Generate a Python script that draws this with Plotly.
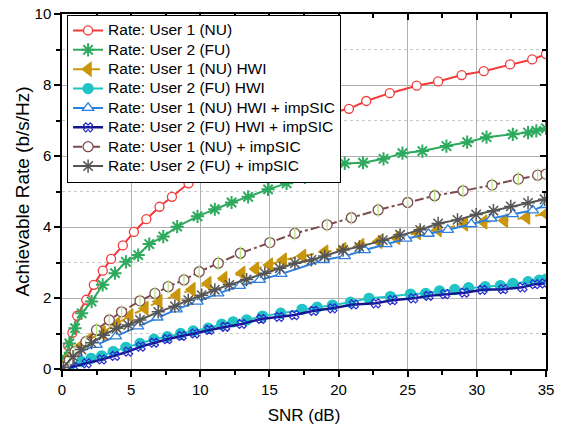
import plotly.graph_objects as go

# ---- data ----
snr_nu = [0.0, 0.15, 0.45, 0.75, 1.1, 1.75, 2.3, 2.95, 3.55, 4.4, 5.2, 6.1, 7.05, 7.95, 9.15, 10.3, 11.6, 13.0, 14.5, 16.0, 17.6, 19.2, 20.75, 22.0, 23.7, 25.65, 27.2, 28.9, 30.5, 32.4, 34.0, 35.0]
rate_nu = [0.0, 0.25, 0.65, 1.02, 1.5, 1.95, 2.37, 2.77, 3.1, 3.48, 3.86, 4.22, 4.57, 4.85, 5.23, 5.5, 5.85, 6.2, 6.5, 6.78, 7.0, 7.2, 7.33, 7.55, 7.77, 7.98, 8.1, 8.28, 8.39, 8.58, 8.72, 8.87]

snr_fu = [0.0, 0.2, 0.53, 0.94, 1.42, 2.14, 2.94, 3.83, 4.62, 5.51, 6.31, 7.32, 8.33, 9.8, 11.05, 12.26, 13.46, 14.9, 16.24, 17.56, 19.1, 20.45, 21.77, 23.25, 24.62, 26.06, 27.8, 29.3, 30.7, 32.6, 33.7, 34.3, 35.0]
rate_fu = [0.0, 0.3, 0.72, 1.15, 1.57, 1.9, 2.37, 2.7, 3.02, 3.21, 3.52, 3.73, 4.01, 4.3, 4.5, 4.69, 4.85, 5.06, 5.23, 5.4, 5.65, 5.79, 5.81, 5.92, 6.08, 6.14, 6.28, 6.39, 6.53, 6.61, 6.66, 6.71, 6.78]

snr_nu_hwi = [0.05, 0.6, 1.2, 1.9, 2.9, 3.95, 4.9, 6.0, 7.0, 8.3, 9.4, 10.55, 11.7, 13.0, 14.0, 15.0, 16.0, 17.4, 19.0, 20.3, 21.6, 22.9, 24.2, 25.7, 27.2, 29.1, 30.5, 32.0, 33.6, 35.0]
rate_nu_hwi = [0.1, 0.35, 0.6, 0.82, 1.02, 1.27, 1.5, 1.71, 1.9, 2.08, 2.24, 2.41, 2.55, 2.7, 2.82, 2.93, 3.07, 3.18, 3.3, 3.37, 3.48, 3.59, 3.7, 3.84, 3.92, 4.08, 4.14, 4.18, 4.27, 4.37]

snr_fu_hwi = [0.0, 0.6, 1.42, 2.1, 2.87, 3.7, 4.62, 5.64, 6.65, 7.61, 8.58, 9.49, 10.57, 11.55, 12.38, 13.35, 14.5, 15.82, 17.36, 18.45, 19.56, 20.86, 22.2, 23.75, 25.2, 26.3, 27.3, 28.4, 29.4, 30.6, 31.7, 32.6, 33.7, 34.5, 35.0]
rate_fu_hwi = [0.05, 0.12, 0.21, 0.3, 0.37, 0.49, 0.61, 0.72, 0.84, 0.91, 1.0, 1.07, 1.15, 1.26, 1.33, 1.38, 1.49, 1.57, 1.68, 1.74, 1.8, 1.88, 1.99, 2.04, 2.11, 2.13, 2.2, 2.24, 2.29, 2.32, 2.35, 2.41, 2.46, 2.5, 2.53]

snr_nu_hwi_sic = [0.1, 1.06, 2.5, 3.9, 5.5, 6.9, 8.29, 9.8, 11.3, 12.86, 14.3, 15.87, 18.93, 20.45, 21.9, 23.46, 24.9, 26.5, 27.9, 29.6, 31.05, 32.6, 34.05, 35.0]
rate_nu_hwi_sic = [0.05, 0.44, 0.68, 0.92, 1.2, 1.45, 1.68, 1.9, 2.13, 2.34, 2.51, 2.68, 3.07, 3.18, 3.35, 3.52, 3.67, 3.81, 3.92, 4.08, 4.24, 4.36, 4.47, 4.62]

snr_fu_hwi_sic = [0.1, 0.82, 1.78, 2.87, 3.83, 4.79, 5.69, 6.65, 7.61, 8.65, 9.6, 10.65, 11.8, 13.0, 14.4, 15.7, 16.8, 18.2, 19.56, 21.1, 22.7, 23.9, 25.4, 26.5, 27.7, 29.1, 30.4, 31.9, 33.3, 34.2, 34.9]
rate_fu_hwi_sic = [0.0, 0.06, 0.16, 0.27, 0.37, 0.49, 0.63, 0.74, 0.84, 0.93, 1.0, 1.1, 1.19, 1.27, 1.41, 1.47, 1.52, 1.64, 1.71, 1.82, 1.85, 1.94, 1.99, 2.06, 2.11, 2.15, 2.23, 2.25, 2.3, 2.39, 2.41]

snr_nu_sic = [0.1, 0.53, 0.94, 1.73, 2.5, 3.42, 4.31, 5.64, 6.72, 7.68, 8.82, 9.92, 11.3, 12.9, 15.03, 16.84, 19.17, 20.93, 22.86, 25.0, 26.95, 29.0, 31.1, 33.0, 34.4, 35.0]
rate_nu_sic = [0.05, 0.25, 0.49, 0.77, 1.1, 1.38, 1.61, 1.92, 2.13, 2.32, 2.51, 2.74, 2.98, 3.26, 3.56, 3.82, 4.06, 4.26, 4.48, 4.69, 4.88, 5.02, 5.18, 5.35, 5.46, 5.49]

snr_fu_sic = [0.1, 0.8, 1.4, 2.14, 3.0, 3.95, 4.79, 5.64, 6.96, 8.16, 9.13, 10.1, 11.05, 12.1, 13.35, 14.67, 15.75, 16.84, 18.04, 19.0, 20.33, 21.5, 23.2, 24.45, 25.9, 27.2, 28.6, 29.95, 31.2, 32.45, 33.7, 34.9]
rate_fu_sic = [0.05, 0.35, 0.55, 0.74, 0.95, 1.15, 1.24, 1.38, 1.61, 1.77, 1.94, 2.08, 2.23, 2.37, 2.52, 2.7, 2.84, 2.98, 3.07, 3.18, 3.35, 3.44, 3.63, 3.78, 3.92, 4.1, 4.2, 4.35, 4.46, 4.58, 4.68, 4.78]

names = [
    "Rate: User 1 (NU)",
    "Rate: User 2 (FU)",
    "Rate: User 1 (NU) HWI",
    "Rate: User 2 (FU) HWI",
    "Rate: User 1 (NU) HWI + impSIC",
    "Rate: User 2 (FU) HWI + impSIC",
    "Rate: User 1 (NU) + impSIC",
    "Rate: User 2 (FU) + impSIC",
]

FONT = "Liberation Sans, Arial"
fig = go.Figure()

def add(x, y, name, color, dash, symbol, size, mcolor=None, fill=None, lw=2, mlw=1.3, showlegend=True):
    mcolor = mcolor or color
    fig.add_trace(go.Scatter(
        x=x, y=y, name='<span style="font-size:15.5px">' + name + '</span>',
        mode="lines+markers", showlegend=showlegend,
        line=dict(color=color, width=lw, dash=dash),
        marker=dict(symbol=symbol, size=size, color=fill if fill else mcolor,
                    line=dict(color=mcolor, width=mlw)),
    ))

add(snr_nu, rate_nu, names[0], "#f23a3a", "solid", "circle", 9, fill="white")
add(snr_fu, rate_fu, names[1], "#2eaa5e", "solid", "asterisk-open", 11, mlw=2)
add(snr_nu_hwi, rate_nu_hwi, names[2], "#c9960c", "dash", "triangle-left", 12)
add(snr_fu_hwi, rate_fu_hwi, names[3], "#20c4c4", "solid", "circle", 10)
add(snr_nu_hwi_sic, rate_nu_hwi_sic, names[4], "#2c7fe0", "solid", "triangle-up", 10, fill="white")
add(snr_fu_hwi_sic, rate_fu_hwi_sic, names[5], "#14148c", "solid", "x-open", 8, mcolor="#2a2ad0", lw=2.5, mlw=1.2)
add(snr_nu_sic, rate_nu_sic, names[6], "#7c4c4c", "dashdot", "circle", 10, fill="white")
# vertical bar inside the brown circle markers
fig.add_trace(go.Scatter(x=snr_nu_sic, y=rate_nu_sic, mode="markers", showlegend=False,
                         hoverinfo="skip",
                         marker=dict(symbol="line-ns-open", size=10, line=dict(color="#7c4c4c", width=1.3))))
add(snr_fu_sic, rate_fu_sic, names[7], "#555555", "solid", "asterisk-open", 11, mlw=1.5)

# invisible trace that anchors the mirrored (top/right) tick axes
fig.add_trace(go.Scatter(x=snr_nu[:1], y=rate_nu[:1], xaxis="x2", yaxis="y2", mode="markers",
                         marker=dict(opacity=0), showlegend=False, hoverinfo="skip"))

axis_common = dict(
    showline=True, linecolor="black", linewidth=1.5, mirror=True, automargin=False,
    ticks="outside", ticklen=6, tickwidth=1.5, tickcolor="black",
    showgrid=True, gridcolor="#b0b0b0", gridwidth=1,
    zeroline=False, tickfont=dict(family=FONT, size=15, color="black"),
)

fig.update_xaxes(range=[0, 35], dtick=5, tick0=0,
                 title=dict(text="SNR (dB)", font=dict(family=FONT, size=17, color="black"), standoff=12),
                 minor=dict(dtick=2.5, ticks="outside", ticklen=4, tickcolor="black", showgrid=False),
                 **axis_common)
fig.update_yaxes(range=[0, 10], dtick=2, tick0=0,
                 title=dict(text="Achievable Rate (b/s/Hz)", font=dict(family=FONT, size=19, color="black"), standoff=0),
                 minor=dict(dtick=1, ticks="outside", ticklen=4, tickcolor="black",
                            showgrid=True, gridcolor="#c8c8c8", griddash="dot", gridwidth=1),
                 **axis_common)

fig.update_layout(
    width=564, height=425,
    margin=dict(l=62, r=18, t=14, b=56, autoexpand=False),
    paper_bgcolor="white", plot_bgcolor="white",
    font=dict(family=FONT, color="black"),
    xaxis2=dict(overlaying="x", side="top", range=[0, 35], dtick=5, tick0=0, automargin=False,
                ticks="inside", ticklen=6, tickwidth=1.5, tickcolor="black",
                minor=dict(dtick=2.5, ticks="inside", ticklen=4, tickcolor="black", showgrid=False),
                showticklabels=False, showgrid=False, showline=False, zeroline=False),
    yaxis2=dict(overlaying="y", side="right", range=[0, 10], dtick=2, tick0=0, automargin=False,
                ticks="inside", ticklen=6, tickwidth=1.5, tickcolor="black",
                minor=dict(dtick=1, ticks="inside", ticklen=4, tickcolor="black", showgrid=False),
                showticklabels=False, showgrid=False, showline=False, zeroline=False),
    legend=dict(x=0.0105, y=0.998, xanchor="left", yanchor="top",
                bgcolor="white", bordercolor="black", borderwidth=1,
                font=dict(family=FONT, size=12.6, color="black"),
                tracegroupgap=0, itemwidth=30),
)

fig.write_html("out.html")
